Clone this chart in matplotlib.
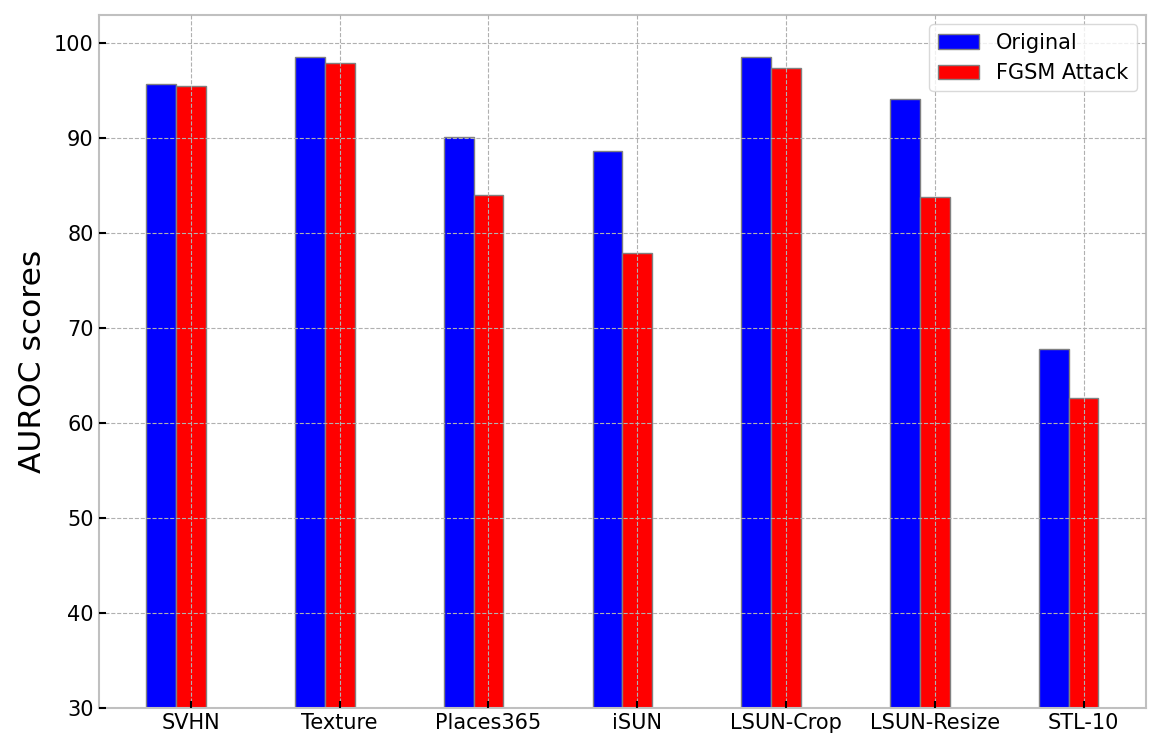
import numpy as np
import matplotlib
matplotlib.use("Agg")
import matplotlib.pyplot as plt

## AUROC per OOD dataset, clean vs FGSM
datasets = ["SVHN", "Texture", "Places365", "iSUN", "LSUN-Crop", "LSUN-Resize", "STL-10"]
original = [95.7, 98.6, 90.1, 88.7, 98.6, 94.2, 67.8]
fgsm = [95.5, 97.9, 84.0, 77.9, 97.4, 83.8, 62.7]

x = np.arange(len(datasets))
width = 0.2

fig = plt.figure(figsize=(11.6, 7.5), dpi=100)
ax = plt.axes([0.085, 0.056, 0.903, 0.924])

ax.bar(x - width, original, width, color="blue", edgecolor="gray", linewidth=1, label="Original")
ax.bar(x, fgsm, width, color="red", edgecolor="gray", linewidth=1, label="FGSM Attack")

ax.set_xticks(x)
ax.set_xticklabels(datasets)
ax.set_ylim(30, 103)
ax.set_ylabel("AUROC scores", fontsize=22.5, labelpad=5)

ax.set_axisbelow(False)
ax.grid(True, color="#b0b0b0", linestyle="--", linewidth=0.8)
for s in ax.spines.values():
    s.set_color("#c0c0c0")
    s.set_linewidth(1.5)
ax.tick_params(direction="in", length=5, width=1.5, labelsize=15, color="black")

ax.legend(loc="upper right", fontsize=15, fancybox=True, framealpha=0.8, edgecolor="#d0d0d0",
          borderaxespad=0.45)

plt.savefig("out.png")
